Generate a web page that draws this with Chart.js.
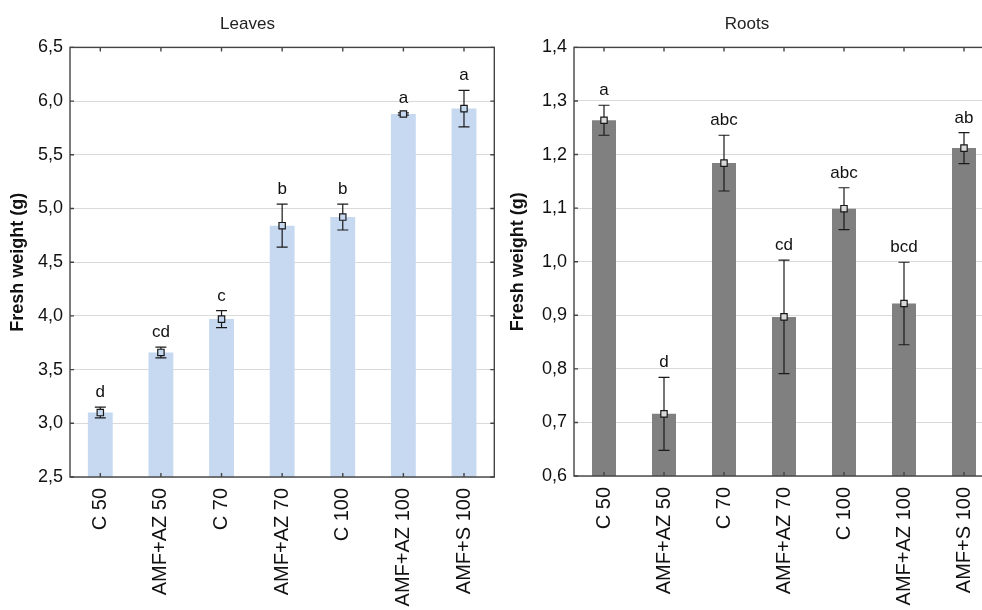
<!DOCTYPE html>
<html lang="en">
<head>
<meta charset="UTF-8">
<title>Fresh weight - Leaves and Roots</title>
<script src="https://cdn.jsdelivr.net/npm/chart.js@4.4.1/dist/chart.umd.min.js"></script>
<style>
    html, body { margin: 0; padding: 0; background: #fff; overflow: hidden; width: 982px; height: 610px; }
    #leaves { position: absolute; left: 0; top: 0; }
    #roots { position: absolute; left: 500px; top: 0; }
</style>
</head>
<body>
<canvas id="leaves" width="500" height="610"></canvas>
<canvas id="roots" width="520" height="610"></canvas>
<script>
    const categories = ['C 50', 'AMF+AZ 50', 'C 70', 'AMF+AZ 70', 'C 100', 'AMF+AZ 100', 'AMF+S 100'];

    // leaves
    const leafMeans = [3.10, 3.66, 3.97, 4.84, 4.92, 5.88, 5.93];
    const leafErr = [0.05, 0.05, 0.08, 0.20, 0.12, 0.01, 0.17];
    const leafLetters = ['d', 'cd', 'c', 'b', 'b', 'a', 'a'];
    const leafTicks = [2.5, 3.0, 3.5, 4.0, 4.5, 5.0, 5.5, 6.0, 6.5];

    // roots
    const rootMeans = [1.264, 0.716, 1.184, 0.897, 1.099, 0.922, 1.212];
    const rootErr = [0.028, 0.068, 0.052, 0.106, 0.039, 0.077, 0.029];
    const rootLetters = ['a', 'd', 'abc', 'cd', 'abc', 'bcd', 'ab'];
    const rootTicks = [0.6, 0.7, 0.8, 0.9, 1.0, 1.1, 1.2, 1.3, 1.4];

    const FONT = '"Liberation Sans", Arial, sans-serif';
    const fmt = v => Number(v).toFixed(1).replace('.', ',');

    // error bars + letters, drawn right after the bars so the markers sit on top
    function errorPlugin(means, errs, letters) {
        return {
            id: 'errorBars',
            afterDatasetDraw(chart, args) {
                if (args.meta.type !== 'bar') return;
                const ctx = chart.ctx, xs = chart.scales.x, ys = chart.scales.y;
                ctx.save();
                ctx.strokeStyle = '#1a1a1a';
                ctx.lineWidth = 1.2;
                ctx.fillStyle = '#111';
                ctx.font = '17px ' + FONT;
                ctx.textAlign = 'center';
                ctx.textBaseline = 'alphabetic';
                means.forEach((m, i) => {
                    const px = xs.getPixelForValue(i);
                    const top = ys.getPixelForValue(m + errs[i]);
                    const bot = ys.getPixelForValue(m - errs[i]);
                    ctx.beginPath();
                    ctx.moveTo(px, top); ctx.lineTo(px, bot);
                    ctx.moveTo(px - 5.5, top); ctx.lineTo(px + 5.5, top);
                    ctx.moveTo(px - 5.5, bot); ctx.lineTo(px + 5.5, bot);
                    ctx.stroke();
                    ctx.fillText(letters[i], px, top - 10);
                });
                ctx.restore();
            }
        };
    }

    // plot frame with small inward ticks
    const framePlugin = {
        id: 'frame',
        afterDraw(chart) {
            const { ctx, chartArea: a } = chart;
            const xs = chart.scales.x, ys = chart.scales.y;
            ctx.save();
            ctx.strokeStyle = '#444';
            ctx.lineWidth = 1.4;
            ctx.strokeRect(a.left, a.top, a.right - a.left, a.bottom - a.top);
            ctx.beginPath();
            categories.forEach((c, i) => {
                const px = xs.getPixelForValue(i);
                ctx.moveTo(px, a.top); ctx.lineTo(px, a.top + 4);
                ctx.moveTo(px, a.bottom); ctx.lineTo(px, a.bottom - 4);
            });
            ys.ticks.forEach(t => {
                const py = ys.getPixelForValue(t.value);
                ctx.moveTo(a.left, py); ctx.lineTo(a.left + 4, py);
                ctx.moveTo(a.right, py); ctx.lineTo(a.right - 4, py);
            });
            ctx.stroke();
            ctx.restore();
        }
    };

    function makeChart(id, cfg) {
        return new Chart(document.getElementById(id), {
            type: 'bar',
            data: {
                labels: categories,
                datasets: [{
                    type: 'line',
                    data: cfg.means,
                    showLine: false,
                    pointStyle: 'rect',
                    pointRadius: 4.5,
                    pointBorderWidth: 1.2,
                    pointBorderColor: '#1a1a1a',
                    pointBackgroundColor: cfg.markerFill,
                    order: 0
                }, {
                    data: cfg.means,
                    backgroundColor: cfg.barColor,
                    borderWidth: 0,
                    barPercentage: cfg.barPct,
                    categoryPercentage: 1,
                    order: 1
                }]
            },
            options: {
                responsive: false,
                animation: false,
                layout: { padding: { left: 0, right: cfg.padRight, top: 0, bottom: 0 } },
                plugins: {
                    legend: { display: false },
                    tooltip: { enabled: false },
                    title: {
                        display: true,
                        text: cfg.title,
                        color: '#222',
                        font: { family: FONT, size: 17, weight: 'normal' },
                        padding: { top: 14, bottom: 13 }
                    }
                },
                scales: {
                    x: {
                        grid: { display: false, drawTicks: false },
                        border: { display: false },
                        ticks: {
                            autoSkip: false,
                            maxRotation: 90,
                            minRotation: 90,
                            padding: 11,
                            color: '#111',
                            font: { family: FONT, size: 20 }
                        },
                        afterFit: s => { s.height = cfg.xHeight; }
                    },
                    y: {
                        min: cfg.ticks[0],
                        max: cfg.ticks[cfg.ticks.length - 1],
                        grid: { color: '#dadada', lineWidth: 1, drawTicks: false },
                        border: { display: false },
                        afterBuildTicks: s => { s.ticks = cfg.ticks.map(v => ({ value: v })); },
                        ticks: {
                            padding: 7,
                            color: '#111',
                            font: { family: FONT, size: 18 },
                            callback: v => fmt(v)
                        },
                        title: {
                            display: true,
                            text: 'Fresh weight (g)',
                            color: '#111',
                            font: { family: FONT, size: 18, weight: 'bold' },
                            padding: { top: 7, bottom: 0 }
                        },
                        afterFit: s => { s.width = cfg.yWidth; }
                    }
                }
            },
            plugins: [errorPlugin(cfg.means, cfg.errs, cfg.letters), framePlugin]
        });
    }

    makeChart('leaves', {
        title: 'Leaves',
        means: leafMeans, errs: leafErr, letters: leafLetters, ticks: leafTicks,
        barColor: '#c6d9f1', markerFill: '#c6d9f1', barPct: 0.41,
        yWidth: 70, xHeight: 133, padRight: 5
    });

    makeChart('roots', {
        title: 'Roots',
        means: rootMeans, errs: rootErr, letters: rootLetters, ticks: rootTicks,
        barColor: '#808080', markerFill: '#d9d9d9', barPct: 0.40,
        yWidth: 74, xHeight: 134, padRight: 26
    });
</script>
</body>
</html>
